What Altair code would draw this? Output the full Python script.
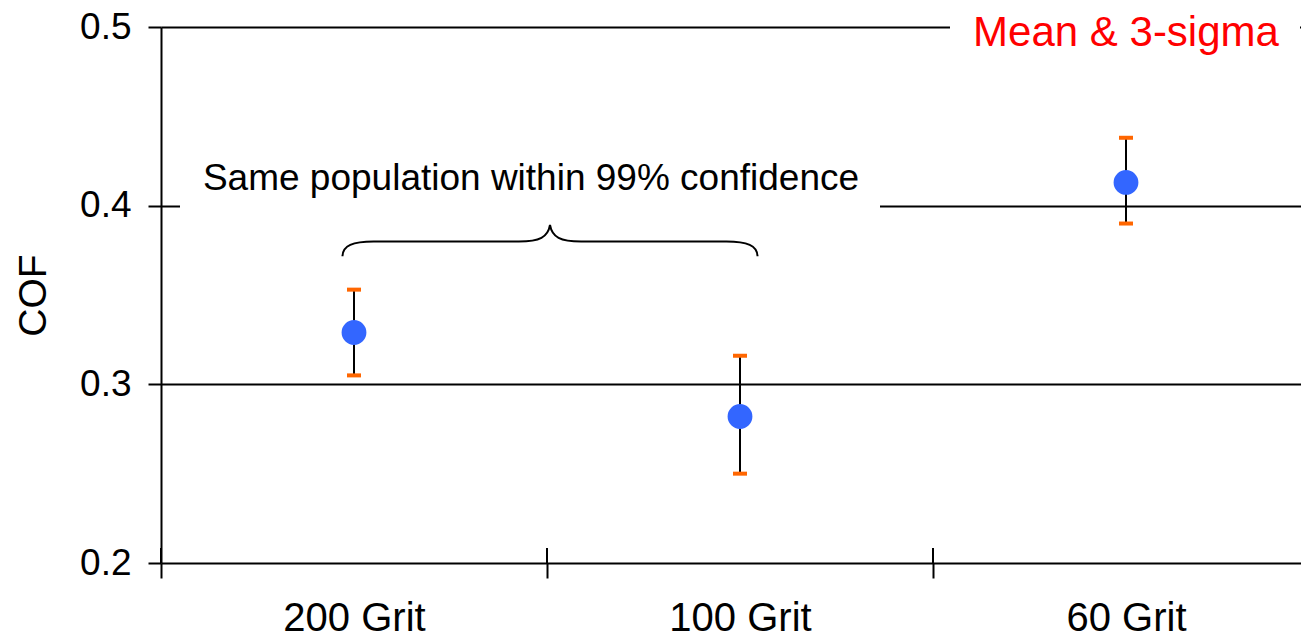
import altair as alt
import pandas as pd

categories = ["200 Grit", "100 Grit", "60 Grit"]
means = [0.329, 0.282, 0.413]
lower = [0.305, 0.250, 0.390]
upper = [0.353, 0.316, 0.438]

df = pd.DataFrame({"grit": categories, "mean": means, "lo": lower, "hi": upper})

W = 1140
H = 536
BAND_RANGE = 1158
FONT = "Liberation Sans"

xscale = alt.Scale(domain=categories, range=[0, BAND_RANGE], paddingInner=0, paddingOuter=0)
yscale = alt.Scale(domain=[0.2, 0.5], nice=False, zero=False)

x_axis = alt.Axis(title=None, labelFontSize=40, labelFont=FONT, labelColor="black",
                  labelPadding=20, labelAngle=0, tickBand="extent", tickSize=15,
                  tickWidth=2, tickColor="black", domain=False, grid=False)
y_axis = alt.Axis(title="COF", values=[0.2, 0.3, 0.4, 0.5], format=".1f",
                  labelFontSize=37, labelFont=FONT, labelColor="black",
                  titleFontSize=39, titleFont=FONT, titleFontWeight="normal", titleColor="black",
                  grid=True, gridColor="black", gridWidth=2, gridOpacity=1,
                  domainColor="black", domainWidth=2, tickColor="black", tickWidth=2,
                  tickSize=13, labelPadding=17, titlePadding=26)

base = alt.Chart(df)

bars = base.mark_rule(color="black", strokeWidth=2).encode(
    x=alt.X("grit:N", scale=xscale, sort=categories, axis=x_axis),
    y=alt.Y("lo:Q", scale=yscale, axis=y_axis),
    y2="hi:Q",
)
cap_lo = base.mark_tick(color="#FF6600", thickness=4, size=14, opacity=1).encode(
    x=alt.X("grit:N", scale=xscale, sort=categories),
    y=alt.Y("lo:Q", scale=yscale),
)
cap_hi = base.mark_tick(color="#FF6600", thickness=4, size=14, opacity=1).encode(
    x=alt.X("grit:N", scale=xscale, sort=categories),
    y=alt.Y("hi:Q", scale=yscale),
)
points = base.mark_circle(color="#3366FF", size=616, opacity=1).encode(
    x=alt.X("grit:N", scale=xscale, sort=categories),
    y=alt.Y("mean:Q", scale=yscale),
)

# upward halves of x ticks at band boundaries
tick_up = alt.Chart(pd.DataFrame({"grit": categories})).mark_rule(color="black", strokeWidth=2).encode(
    x=alt.X("grit:N", scale=xscale, sort=categories, bandPosition=0),
    y=alt.value(H - 15),
    y2=alt.value(H),
)

# white boxes behind annotations (interrupting grid lines)
box1 = alt.Chart(pd.DataFrame({"a": [0]})).mark_rect(color="white").encode(
    x=alt.value(19), x2=alt.value(719),
    y=alt.datum(0.395, scale=yscale), y2=alt.datum(0.405),
)
box2 = alt.Chart(pd.DataFrame({"a": [0]})).mark_rect(color="white").encode(
    x=alt.value(789), x2=alt.value(1139),
    y=alt.datum(0.49, scale=yscale), y2=alt.datum(0.502),
)

txt1 = alt.Chart(pd.DataFrame({"t": ["Same population within 99% confidence"]})).mark_text(
    font=FONT, fontSize=37, color="black", align="center", baseline="alphabetic"
).encode(x=alt.value(370), y=alt.datum(0.409, scale=yscale), text="t:N")

txt2 = alt.Chart(pd.DataFrame({"t": ["Mean & 3-sigma"], "grit": ["60 Grit"]})).mark_text(
    font=FONT, fontSize=42, color="#FF0000", align="center", baseline="alphabetic"
).encode(x=alt.X("grit:N", scale=xscale, sort=categories),
         y=alt.datum(0.4891, scale=yscale), text="t:N")

brace_path = ("M-1,0.072 C-1,0.02 -0.95,0 -0.85,0 L-0.15,0 C-0.05,0 -0.01,-0.02 0,-0.08 "
              "C0.01,-0.02 0.05,0 0.15,0 L0.85,0 C0.95,0 1,0.02 1,0.072")
brace = alt.Chart(pd.DataFrame({"a": [0]})).mark_point(
    shape=brace_path, size=415 * 415, filled=False, stroke="black", strokeWidth=2, opacity=1
).encode(x=alt.value(389), y=alt.datum(0.38, scale=yscale))

chart = alt.layer(bars, box1, box2, cap_lo, cap_hi, points, tick_up, txt1, txt2, brace).properties(
    width=W, height=H,
    autosize=alt.AutoSizeParams(type="none"),
    padding={"left": 153, "top": 19, "right": 0, "bottom": 74},
).configure_view(stroke=None)

chart.save("out.html", embed_options={"renderer": "svg", "actions": False})
